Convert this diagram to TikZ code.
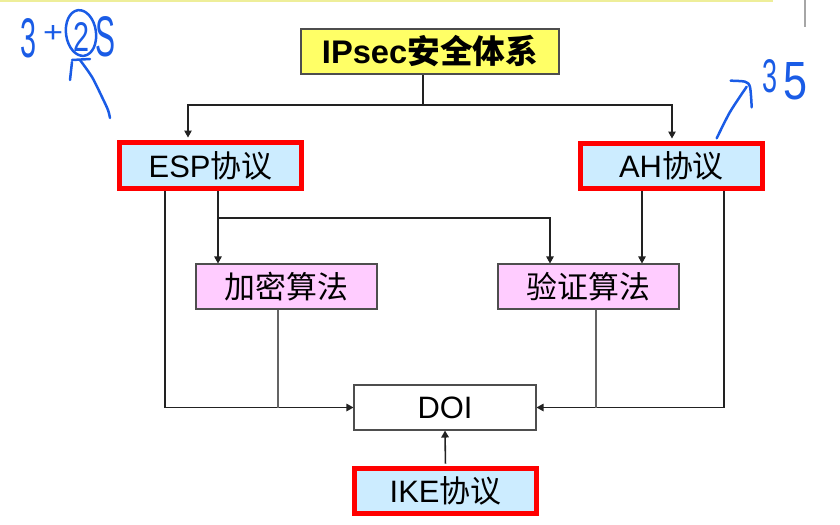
\documentclass[tikz,border=0pt]{standalone}
\usepackage{fontspec}
\setmainfont{Liberation Sans}
\newfontfamily\cjk{Noto Sans CJK SC}
\usetikzlibrary{arrows.meta,backgrounds,calc}
\definecolor{boxblue}{HTML}{CCECFF}
\definecolor{boxpink}{HTML}{FFCCFF}
\definecolor{boxyellow}{HTML}{FFFF66}
\definecolor{redline}{HTML}{FF0000}
\definecolor{ink}{HTML}{1A5CE6}
\definecolor{linegray}{HTML}{222222}
\definecolor{topyellow}{HTML}{EEEE99}
\tikzset{
  base/.style={rectangle, inner sep=0pt, align=center, font=\fontsize{17.6}{20}\selectfont},
  plainbox/.style={base, draw=linegray!80, line width=0.6pt},
  redbox/.style={base, draw=redline, line width=0.1cm, fill=boxblue},
  conn/.style={draw=linegray, line width=0.6pt},
  arr/.style={conn, -{Triangle[length=1.4mm,width=1.5mm]}},
  hand/.style={draw=ink, line width=0.05cm, line cap=round, line join=round},
  handtext/.style={text=ink, inner sep=0pt, font=\fontsize{30}{30}\selectfont}
}
\begin{document}
\begin{tikzpicture}[x=0.02cm,y=-0.02cm]
\useasboundingbox (0,0) rectangle (840,525);
% page decorations
\fill[topyellow] (0,0) rectangle (773,2);
\draw[gray!70, line width=1.5pt] (805,0) -- (805,27);
% nodes
\node[plainbox, fill=boxyellow, minimum width=5.16cm, minimum height=0.9cm, font=\fontsize{18.6}{20}\selectfont] (ipsec) at (430,51.5) {\bfseries IPsec{\cjk 安全体系}};
\node[redbox, minimum width=3.64cm, minimum height=0.92cm] (esp) at (210.5,165.5) {ESP{\cjk 协议}};
\node[redbox, minimum width=3.64cm, minimum height=0.9cm] (ah) at (671.5,166) {AH{\cjk 协议}};
\node[plainbox, fill=boxpink, minimum width=3.62cm, minimum height=0.9cm] (jiami) at (286.5,286.5) {\cjk 加密算法};
\node[plainbox, fill=boxpink, minimum width=3.62cm, minimum height=0.9cm] (yanz) at (588.5,286.5) {\cjk 验证算法};
\node[plainbox, fill=white, minimum width=3.64cm, minimum height=0.9cm] (doi) at (445,407.5) {DOI};
\node[redbox, minimum width=3.64cm, minimum height=0.9cm] (ike) at (445.5,491) {IKE{\cjk 协议}};
% helper coordinates
\coordinate (top) at (423,105);
\coordinate (ex) at (188,0);
\coordinate (ahx) at (672,0);
\coordinate (ej) at (218,218);
\coordinate (vx) at (550,0);
\coordinate (ax) at (642,0);
\coordinate (lx) at (165,0);
\coordinate (rx) at (724,0);
\coordinate (jx) at (278,0);
\coordinate (yx) at (596,0);
\begin{scope}[on background layer]
\draw[conn] (ipsec.south -| top) -- (top);
\draw[arr, shorten >=0.05cm] (top) -| (esp.north -| ex);
\draw[arr, shorten >=0.05cm] (top) -| (ah.north -| ahx);
\draw[arr] (esp.south -| ej) -- (jiami.north -| ej);
\draw[arr] (ej) -| (yanz.north -| vx);
\draw[arr] (ah.south -| ax) -- (yanz.north -| ax);
\draw[arr] (esp.south -| lx) |- (doi.west);
\draw[arr] (ah.south -| rx) |- (doi.east);
\draw[conn, linegray!70] (jiami.south -| jx) -- (jx |- doi.west);
\draw[conn, linegray!70] (yanz.south -| yx) -- (yx |- doi.east);
\draw[arr, line width=0.9pt, shorten <=0.05cm] (ike.north) -- (doi.south);
\end{scope}
% handwriting, top left
\node[handtext] (h3) at (28,38) {\resizebox{0.32cm}{0.78cm}{3}};
\node[handtext] (hplus) at (53,34) {\resizebox{0.4cm}{0.34cm}{+}};
\node[handtext] (h2) at (81,37) {\resizebox{0.32cm}{0.58cm}{2}};
\node[handtext] (hS) at (105,37) {\resizebox{0.4cm}{0.8cm}{S}};
\draw[hand, rotate around={8:(81,33)}] (81,33) ellipse [x radius=15, y radius=23];
\draw[hand] (72,60) -- (90,59);
\draw[hand] (72,62) -- (70,80);
\draw[hand] plot[smooth] coordinates {(80,60) (92,77) (102,97) (108,110) (110,118)};
% handwriting, top right
\draw[hand] plot[smooth] coordinates {(716.7,138.3) (730,112) (746.7,86.7)};
\draw[hand] plot[smooth] coordinates {(730.7,80.7) (745,81.7) (750,87) (751.7,107.3)};
\node[handtext] (r3) at (770,76.5) {\resizebox{0.3cm}{0.66cm}{3}};
\node[handtext] (r5) at (795,81.5) {\resizebox{0.48cm}{0.74cm}{5}};
\end{tikzpicture}
\end{document}
